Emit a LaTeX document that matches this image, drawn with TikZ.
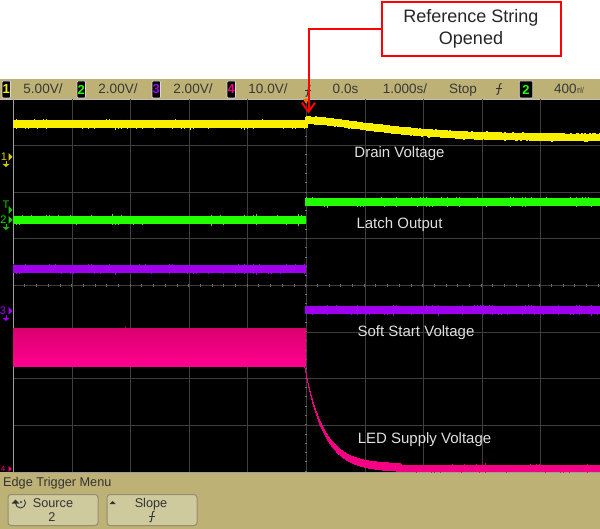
\documentclass[tikz,border=0pt]{standalone}
\usepackage{fontspec}
\setmainfont{Liberation Sans}
\usetikzlibrary{arrows.meta}
\definecolor{bar}{HTML}{BDB176}
\definecolor{btn}{HTML}{CFCA9E}
\definecolor{scopeyellow}{HTML}{F8F000}
\definecolor{scopegreen}{HTML}{22FF00}
\definecolor{scopepurple}{HTML}{A000F0}
\definecolor{scopepink}{HTML}{F50085}
\definecolor{pinktop}{HTML}{DC0070}
\definecolor{pinkbot}{HTML}{FF0090}
\definecolor{grat}{HTML}{3E3E3E}
\tikzset{
  hdr/.style={font=\fontsize{13.5}{14}\selectfont, text=black!78, inner sep=0pt, anchor=base},
  menutext/.style={font=\fontsize{12.7}{13}\selectfont, text=black!80, inner sep=0pt, anchor=base},
  chbox/.style={fill=black, draw=white!85!black, line width=0.7pt, rounded corners=1pt, minimum width=8.5pt, minimum height=17pt, inner sep=0pt, font=\fontsize{13}{13}\selectfont\bfseries},
  softkey/.style={fill=btn, draw=btn!70!black, line width=1pt, rounded corners=3pt, minimum width=90pt, minimum height=31pt, inner sep=0pt},
  lab/.style={font=\fontsize{15}{16}\selectfont, text=white!88!black, inner sep=0pt, anchor=center},
  callout/.style={fill=white, draw=red, line width=2pt, minimum width=179pt, minimum height=54pt, align=center, inner sep=0pt, font=\fontsize{18}{22}\selectfont, text=black!85},
  sidemark/.style={font=\fontsize{11}{11}\selectfont, inner sep=0pt, anchor=center},
  gridline/.style={draw=grat, line width=0.8pt},
}
\newcommand{\noisy}[5]{% colour, x0, x1, y, half height
  \pgfmathsetmacro{\nxt}{#2+3}%
  \foreach \i in {#2,\nxt,...,#3}{%
    \pgfmathsetmacro{\ra}{#5+2.6*rnd*rnd*rnd}\pgfmathsetmacro{\rb}{#5+2.6*rnd*rnd*rnd}%
    \draw[#1, line width=0.8pt] (\i,#4-\ra) -- (\i,#4+\rb);}}
\newcommand{\gndmark}[3]{% colour, x, y
  \fill[#1] (#2-3.5,#3) -- (#2+3.5,#3) -- (#2,#3+3) -- cycle;
  \draw[#1, line width=0.8pt] (#2,#3-3) -- (#2,#3);}
\newcommand{\slopeglyph}[2]{% x,y
  \draw[black!80, line width=1pt] (#1-2.5,#2+5.5) .. controls (#1,#2+5.5) and (#1-0.5,#2+2) .. (#1,#2) .. controls (#1+0.5,#2-2) and (#1,#2-5.5) .. (#1+2.5,#2-5.5);
  \draw[black!80, line width=1pt] (#1-2.8,#2) -- (#1+2.8,#2);}
\begin{document}
\begin{tikzpicture}[x=1pt,y=-1pt]
\useasboundingbox (0,0) rectangle (600,529);
\pgfmathsetseed{7}
\fill[white] (0,0) rectangle (600,529);
% panels
\fill[bar] (0,79) rectangle (600,99);
\fill[black] (0,99) rectangle (600,472);
\fill[bar] (0,472) rectangle (600,529);
\draw[white!75!black, line width=0.8pt] (0,99) -- (600,99);
% graticule
\foreach \x in {72,130.5,189,247.5,365,423.5,482,540.5}{\draw[gridline] (\x,99) -- (\x,472);}
\foreach \y in {145.6,192.2,238.8,332,378.6,425.2}{\draw[gridline] (13,\y) -- (600,\y);}
\draw[gridline] (13,285.4) -- (600,285.4);
\draw[gridline] (306,99) -- (306,472);
\foreach \x in {13,24.7,...,600}{\draw[white!42!black, line width=0.6pt] (\x,284) -- (\x,286.8);}
\foreach \y in {99,108.3,...,472}{\draw[white!42!black, line width=0.6pt] (304.6,\y) -- (307.4,\y);}
\draw[white!62!black, line width=1pt] (13,99) -- (13,472);
\draw[white!62!black, line width=0.8pt] (13,472) -- (600,472);
\begin{scope}
\clip (13,99) rectangle (600,472);
% yellow
\fill[scopeyellow] (13,120) rectangle (306,128.5);
\noisy{scopeyellow}{13}{306}{124.2}{4}
\fill[scopeyellow] (304.5,117) rectangle (308,128);
\foreach \x in {307,308,...,600}{%
  \pgfmathsetmacro{\yy}{137.5-17.5*exp(-((\x-306)/100)^1.5)}%
  \pgfmathsetmacro{\ra}{3.6+1.5*rnd*rnd*rnd}\pgfmathsetmacro{\rb}{3.6+1.5*rnd*rnd*rnd}%
  \draw[scopeyellow, line width=1.2pt] (\x,\yy-\ra) -- (\x,\yy+\rb);}
% green
\fill[scopegreen] (13,216) rectangle (306,224);
\noisy{scopegreen}{13}{306}{220}{4}
\fill[scopegreen] (304.5,198) rectangle (600,206);
\noisy{scopegreen}{306}{600}{202}{4}
% purple
\fill[scopepurple] (13,265) rectangle (306,273);
\noisy{scopepurple}{13}{306}{269}{4}
\fill[scopepurple] (304.5,306) rectangle (600,314);
\noisy{scopepurple}{306}{600}{310}{4}
% pink
\shade[top color=pinktop, bottom color=pinkbot] (13,329) rectangle (306,367);
\foreach \i in {13,17,...,306}{%
  \pgfmathsetmacro{\ra}{2*rnd*rnd*rnd}\draw[pinktop, line width=0.8pt] (\i,329-\ra) -- (\i,329.5);}
\foreach \x in {304.5,305,...,400}{%
  \pgfmathsetmacro{\yy}{468-101*exp(-(\x-304.5)/19)}%
  \pgfmathsetmacro{\hh}{1+3.5*(1-exp(-(\x-304.5)/30))}%
  \draw[scopepink, line width=0.9pt] (\x,\yy-\hh) -- (\x,\yy+\hh);}
\fill[scopepink] (398,465) rectangle (600,472);
\noisy{scopepink}{398}{600}{468.5}{3.5}
\end{scope}
% trace labels
\node[lab] (drain) at (399.5,154) {Drain Voltage};
\node[lab] (latch) at (399.5,225) {Latch Output};
\node[lab] (soft) at (416,333) {Soft Start Voltage};
\node[lab] (led) at (424.5,439.5) {LED Supply Voltage};
% left markers
\node[sidemark, text=scopeyellow!85!black] (m1) at (4,157) {1};
\fill[scopeyellow!85!black] (8.5,153) -- (12.5,157) -- (8.5,161) -- cycle;
\gndmark{scopeyellow!85!black}{6}{164}
\node[sidemark, text=scopegreen!75!black] (mT) at (6,205) {T};
\fill[scopegreen!75!black] (8.5,206) -- (12.5,210) -- (8.5,214) -- cycle;
\node[sidemark, text=scopegreen!85!black] (m2) at (3.5,220) {2};
\fill[scopegreen!85!black] (8.5,216) -- (12.5,220) -- (8.5,224) -- cycle;
\gndmark{scopegreen!75!black}{6}{227}
\node[sidemark, text=scopepurple] (m3) at (3,311) {3};
\fill[scopepurple] (8.5,307) -- (12.5,311) -- (8.5,315) -- cycle;
\gndmark{scopepurple}{6}{318}
\node[sidemark, text=scopepink, font=\fontsize{8}{8}\selectfont] (m4) at (3,469) {4};
\fill[scopepink] (8.5,466) -- (12,469) -- (8.5,472) -- cycle;
% header
\node[chbox, text=scopeyellow] (c1) at (6.3,89.5) {1};
\node[hdr] (v1) at (43,94) {5.00V/};
\node[chbox, text=scopegreen] (c2) at (81.3,89.5) {2};
\node[hdr] (v2) at (118,94) {2.00V/};
\node[chbox, text=scopepurple] (c3) at (156.3,89.5) {3};
\node[hdr] (v3) at (193,94) {2.00V/};
\node[chbox, text=scopepink] (c4) at (231.3,89.5) {4};
\node[hdr] (v4) at (268,94) {10.0V/};
\node[hdr] (t0) at (345.5,94) {0.0s};
\node[hdr] (tb) at (405,94) {1.000s/};
\node[hdr] (st) at (463,94) {Stop};
\slopeglyph{499}{89}
\slopeglyph{308}{91}
\node[chbox, text=scopegreen, minimum width=13.5pt] (ct) at (526,89.5) {2};
\node[hdr, anchor=base west] (lv) at (554,94) {400};
\node[inner sep=0pt, text=black!80, font=\fontsize{9}{9}\selectfont, anchor=base west] (lvu) at (lv.base east) {\scalebox{0.5}[1]{mV}};
% menu
\node[menutext, anchor=base west] (title) at (3,486) {Edge Trigger Menu};
\node[softkey] (k1) at (53,510) {};
\node[softkey] (k2) at (152,510) {};
\node[menutext] (k1a) at (53,507) {Source};
\node[menutext] (k1b) at (52,521) {2};
\node[menutext] (k2a) at (151,507) {Slope};
\slopeglyph{152}{516.5}
\draw[black!80, line width=0.9pt] (15.5,503) arc[start angle=180, end angle=400, radius=5pt];
\fill[black!80] (11.5,503.5) -- (19.5,503.5) -- (15.5,499.5) -- cycle;
\fill[black!80] (21,502) circle (1.2pt);
\fill[black!80] (109.5,504) -- (115.5,504) -- (112.5,501) -- cycle;
% callout
\node[callout] (ref) at (471,29) {Reference String\\Opened};
\coordinate (tip) at (308.5,113.5);
\fill[orange!80!red] (303,99) -- (309,99) -- (306,104) -- cycle;
\draw[red, line width=2pt, -{Straight Barb[length=9pt,width=13pt]}] (ref.west) -- (308.5,29) -- (tip);
\end{tikzpicture}
\end{document}
